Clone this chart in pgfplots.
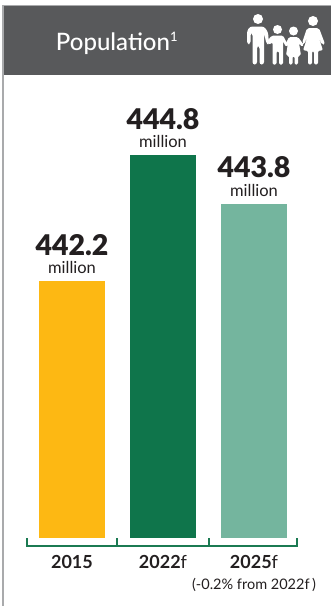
\documentclass[border=0pt]{standalone}
\usepackage{pgfplots}
\usepackage{fontspec}
\pgfplotsset{compat=1.18}
\setmainfont{Lato}
\newfontfamily\heavyfont{Lato Black}
\newfontfamily\mediumfont{Lato Medium}
\definecolor{headgray}{HTML}{58595B}
\definecolor{rulegray}{HTML}{A9AAAC}
\definecolor{amber}{HTML}{FDB813}
\definecolor{deepgreen}{HTML}{0F754B}
\definecolor{palegreen}{HTML}{74B59E}
\definecolor{bracket}{HTML}{1B7A52}
\definecolor{inktext}{HTML}{231F20}
\begin{document}
\begin{tikzpicture}[x=1pt,y=-1pt]
\useasboundingbox (0,0) rectangle (331,606);
% page frame and panel
\fill[white] (0,0) rectangle (331,606);
\draw[rulegray,line width=1.6pt] (3.2,606) -- (3.2,5.5) -- (331,5.5);
\fill[headgray] (3.5,6) rectangle (331,75);
\node[white,anchor=center,font=\mediumfont\fontsize{24}{26}\selectfont] at (117,43) {Population\textsuperscript{\fontsize{13}{13}\selectfont 1}};
% family pictogram
\begin{scope}[white,fill=white]
 \fill (258,19) circle (5);
 \fill (277.5,29.5) circle (4.5);
 \fill (293.5,31) circle (4.5);
 \fill (313,21) circle (5);
 % father
 \fill[rounded corners=2.5] (247,44) -- (247,31) -- (250,26.5) -- (264,26.5) -- (268,32) -- (269,44) -- (266.5,44) -- (264,33) -- (264,64.5) -- (259.5,64.5) -- (259.5,46) -- (257,46) -- (257,64.5) -- (252.5,64.5) -- (252.5,33) -- (250.5,33) -- (250.5,44) -- cycle;
 % boy
 \fill[rounded corners=1.5] (267,41) -- (272,35.5) -- (283,35.5) -- (288,45) -- (286,47) -- (283,41) -- (283,64.5) -- (279,64.5) -- (279,51) -- (276.5,51) -- (276.5,64.5) -- (272.5,64.5) -- (272.5,42) -- (269,45) -- cycle;
 % girl
 \fill[rounded corners=1.5] (285,45) -- (289,37) -- (298,37) -- (304,45) -- (302,47) -- (299,43) -- (301,55.5) -- (298,55.5) -- (298,64.5) -- (294.5,64.5) -- (294.5,56) -- (292.5,56) -- (292.5,64.5) -- (289,64.5) -- (289,55.5) -- (286,55.5) -- (288,43) -- (287,47) -- cycle;
 % mother
 \fill[rounded corners=2] (302,43) -- (307,28) -- (319,28) -- (325,44) -- (322,45) -- (318,35) -- (323,50.5) -- (318,50.5) -- (318,64.5) -- (314,64.5) -- (314,51) -- (312,51) -- (312,64.5) -- (308,64.5) -- (308,50.5) -- (303,50.5) -- (308,35) -- (304,44.5) -- cycle;
\end{scope}
% bars on a truncated value scale
\begin{axis}[
  at={(27pt,-538pt)},anchor=south west,
  scale only axis,width=270pt,height=538pt,
  xmin=-0.4945,xmax=2.4725,
  ymin=436.89,ymax=448.006,
  clip=false,
  axis line style={draw=none},
  tick style={draw=none},
  ytick=\empty,
  xtick={0,1,2},
  xticklabels={{\textbf{2015}},{\textbf{2022}f},{\textbf{2025}f\\[1pt]{\fontsize{14.5}{16}\selectfont(-0.2\% from 2022f\,)}}},
  xticklabel style={align=center,anchor=north,yshift=-10pt,text=inktext,font=\fontsize{18}{20}\selectfont},
  ybar,bar width=66pt,bar shift=0pt,
  /pgf/number format/assume math mode=true,
  nodes near coords={{\heavyfont\fontsize{28.5}{28.5}\selectfont\pgfmathprintnumber[fixed,fixed zerofill,precision=1,assume math mode=true]{\pgfplotspointmeta}}\\[5pt]{\fontsize{16.5}{17}\selectfont million}},
  every node near coord/.append style={align=center,anchor=south,text=inktext,yshift=5pt,inner sep=2pt},
]
\addplot[fill=amber,draw=none] coordinates {(0,442.2)};
\addplot[fill=deepgreen,draw=none] coordinates {(1,444.8)};
\addplot[fill=palegreen,draw=none] coordinates {(2,443.8)};
\end{axis}
% period bracket under the bars
\draw[bracket,line width=1.4pt] (27,538) -- (27,546) -- (297,546) -- (297,538);
\draw[bracket,line width=1.4pt] (117,538) -- (117,546);
\draw[bracket,line width=1.4pt] (209,538) -- (209,546);
\end{tikzpicture}
\end{document}
